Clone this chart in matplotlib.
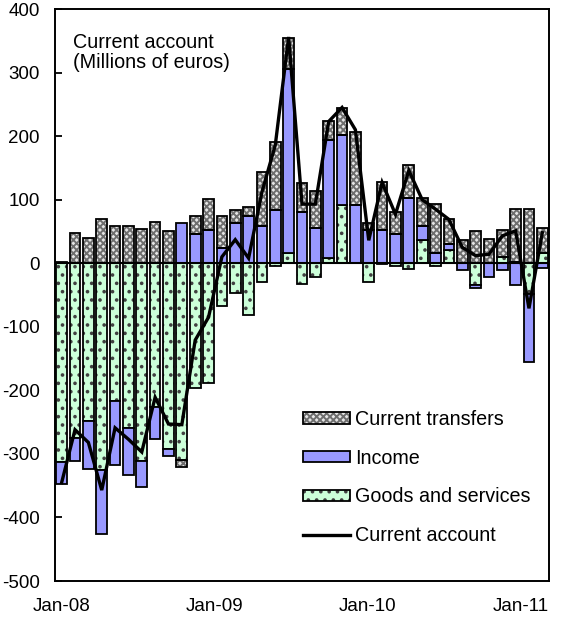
import numpy as np
import matplotlib
matplotlib.use("Agg")
import matplotlib.pyplot as plt
from matplotlib.patches import Patch
from matplotlib.lines import Line2D

# ---------------- data (millions of euros), Jan-08 .. Jan-11 ----------------
months = ["Jan-08", "Feb-08", "Mar-08", "Apr-08", "May-08", "Jun-08", "Jul-08", "Aug-08",
          "Sep-08", "Oct-08", "Nov-08", "Dec-08", "Jan-09", "Feb-09", "Mar-09", "Apr-09",
          "May-09", "Jun-09", "Jul-09", "Aug-09", "Sep-09", "Oct-09", "Nov-09", "Dec-09",
          "Jan-10", "Feb-10", "Mar-10", "Apr-10", "May-10", "Jun-10", "Jul-10", "Aug-10",
          "Sep-10", "Oct-10", "Nov-10", "Dec-10", "Jan-11"]

goods = [-312, -275, -248, -325, -217, -260, -311, -226, -293, -310, -197, -188, -67, -47, -81, -30,
         -4, 16, -33, -22, 8, 92, 0, -29, -1, -4, -9, 36, -5, 21, 0, -34, 0, 10, 2, -48, 16]
income = [-36, -36, -75, -101, -100, -74, -41, -50, -10, 64, 46, 53, 24, 63, 74, 58,
          83, 290, 81, 55, 186, 109, 92, 52, 52, 46, 103, 22, 16, 9, -11, -5, -22, -10, -34, -108, -8]
transfers = [2, 47, 39, 70, 59, 59, 54, 65, 50, -10, 29, 48, 51, 20, 15, 85,
             108, 49, 45, 59, 30, 44, 115, 12, 76, 35, 51, 44, 77, 40, 37, 50, 38, 43, 83, 86, 40]
current_account = [-345, -262, -282, -357, -259, -277, -297, -211, -253, -254, -121, -85, 10, 37, 8, 112,
                   186, 356, 93, 93, 223, 245, 210, 36, 127, 77, 146, 100, 85, 69, 25, 12, 14, 43, 51, -71, 48]

xtick_labels = ["Jan-08", "Jan-09", "Jan-10", "Jan-11"]
yticks = [-500, -400, -300, -200, -100, 0, 100, 200, 300, 400]

series_names = ["Current transfers", "Income", "Goods and services", "Current account"]
title_text = "Current account\n(Millions of euros)"

# ---------------- style ----------------
plt.rcParams["font.family"] = ["Liberation Sans", "DejaVu Sans"]
plt.rcParams["hatch.linewidth"] = 1.4

GREEN = "#ccffd9"
BLUE = "#9999ff"
CHECK_FACE = "#e6e6e6"
CHECK_HATCH = "#6e6e6e"
DOT = "#404040"

fig = plt.figure(figsize=(5.75, 6.18), dpi=100)
ax = fig.add_axes([55 / 575, 1 - 581 / 618, 494 / 575, 572 / 618])

x = np.arange(len(months))
width = 0.8
edge_lw = 1.3

pos_base = np.zeros(len(x))
neg_base = np.zeros(len(x))

def stacked(vals):
    global pos_base, neg_base
    v = np.asarray(vals, dtype=float)
    bottom = np.where(v >= 0, pos_base, neg_base)
    pos_base = pos_base + np.where(v >= 0, v, 0)
    neg_base = neg_base + np.where(v < 0, v, 0)
    return v, bottom

# goods and services (dotted green)
v, b = stacked(goods)
ax.bar(x, v, width, bottom=b, facecolor=GREEN, edgecolor=DOT, hatch="..", linewidth=0, zorder=2)
ax.bar(x, v, width, bottom=b, fill=False, edgecolor="black", linewidth=edge_lw, zorder=3)

# income (blue)
v, b = stacked(income)
ax.bar(x, v, width, bottom=b, facecolor=BLUE, edgecolor="black", linewidth=edge_lw, zorder=3)

# current transfers (grey checker)
v, b = stacked(transfers)
ax.bar(x, v, width, bottom=b, facecolor=CHECK_FACE, edgecolor=CHECK_HATCH, hatch="xxxxx", linewidth=0, zorder=2)
ax.bar(x, v, width, bottom=b, fill=False, edgecolor="black", linewidth=edge_lw, zorder=3)

ax.axhline(0, color="black", linewidth=1.5, zorder=4)

# current account line
ax.plot(x, current_account, color="black", linewidth=2.4, zorder=5, solid_joinstyle="miter")

# axes
ax.set_xlim(-0.5, len(x) - 0.5)
ax.set_ylim(-500, 400)
ax.set_yticks(yticks)
ax.set_yticklabels([str(t) for t in yticks])
ax.set_xticks(np.linspace(0, 34.4, len(xtick_labels)))
ax.set_xticklabels(xtick_labels)
ax.tick_params(axis="y", direction="in", length=5, width=1.3, pad=11, labelsize=13.5)
ax.tick_params(axis="x", length=0, pad=12, labelsize=13.5)
for s in ax.spines.values():
    s.set_linewidth(1.4)
    s.set_color("black")

ax.text(0.036, 0.958, title_text, transform=ax.transAxes, ha="left", va="top",
        fontsize=14.2, linespacing=1.05)

# legend
h_tr = (Patch(facecolor=CHECK_FACE, edgecolor=CHECK_HATCH, hatch="xxxxx", linewidth=0),
        Patch(fill=False, edgecolor="black", linewidth=edge_lw))
h_in = Patch(facecolor=BLUE, edgecolor="black", linewidth=edge_lw)
h_gs = (Patch(facecolor=GREEN, edgecolor=DOT, hatch="..", linewidth=0),
        Patch(fill=False, edgecolor="black", linewidth=edge_lw))
h_ca = Line2D([0], [0], color="black", linewidth=2.4)
ax.legend([h_tr, h_in, h_gs, h_ca], series_names, loc="upper left",
          bbox_to_anchor=((303 - 55) / 494, (581 - 410) / 572), frameon=False,
          fontsize=14.2, handlelength=2.4, handleheight=0.5, handletextpad=0.25,
          labelspacing=1.0, borderpad=0, borderaxespad=0)

fig.savefig("out.png", dpi=100)
